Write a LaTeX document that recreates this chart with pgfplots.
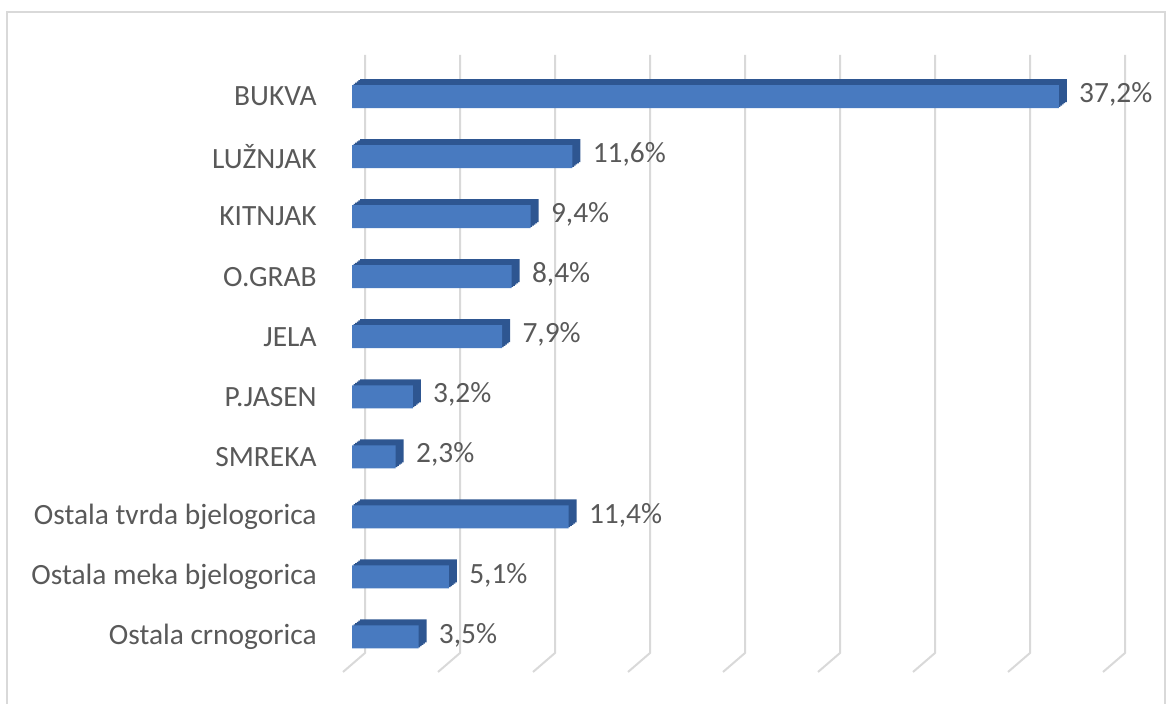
\documentclass[border=0pt]{standalone}
\usepackage{fontspec}
\setmainfont{Carlito}
\usepackage{pgfplots}
\usepackage{pgfplotstable}
\pgfplotsset{compat=1.18}

\definecolor{barfront}{RGB}{72,122,192}
\definecolor{barside}{RGB}{46,86,145}
\definecolor{gridc}{RGB}{217,217,217}
\definecolor{txt}{RGB}{89,89,89}

\pgfplotstableread{
val pos
3.5  0
5.1  1
11.4 2
2.3  3
3.2  4
7.9  5
8.4  6
9.4  7
11.6 8
37.2 9
}\sharetbl

\begin{document}
\begin{tikzpicture}
% page = 1166x704 px, 1 px = 0.5pt
\path[use as bounding box] (0,0) rectangle (583pt,352pt);
\draw[gridc, line width=0.75pt] (3.5pt,-5pt) rectangle (582.5pt,346pt);

\begin{axis}[
    at={(176pt,18.5pt)}, anchor=south west,
    scale only axis,
    width=380pt, height=300.25pt,
    xmin=0, xmax=40,
    ymin=-0.5, ymax=9.5,
    hide x axis,
    axis y line*=left,
    y axis line style={draw=none},
    major tick length=0pt,
    ytick={0,...,9},
    yticklabels={Ostala crnogorica, Ostala meka bjelogorica, Ostala tvrda bjelogorica,
                 SMREKA, P.JASEN, JELA, O.GRAB, KITNJAK, LUŽNJAK, BUKVA},
    yticklabel style={font=\fontsize{14.7}{17}\selectfont, text=txt, inner sep=0pt, xshift=-17.5pt},
    xbar, bar width=11.5pt,
    clip=false,
  ]
  % back wall grid and floor stubs
  \pgfplotsinvokeforeach{0,5,10,15,20,25,30,35,40}{
    \draw[gridc, line width=1pt]
      ([xshift=6.5pt, yshift=5.75pt]axis cs:#1,9.5)
      -- ([xshift=6.5pt, yshift=7pt]axis cs:#1,-0.5)
      -- ++(-11pt,-9.5pt);
  }
  % depth of the bars: stacked shifted copies give the top and side faces
  \pgfplotsinvokeforeach{4,3.2,2.4,1.6,0.8}{
    \addplot[fill=barside, draw=none, bar shift=0pt, xshift=#1pt, yshift=0.75*#1pt]
      table[x=val, y=pos] {\sharetbl};
  }
  % front faces
  \addplot[fill=barfront, draw=none, bar shift=0pt,
      nodes near coords={\pgfmathprintnumber[use comma,fixed,fixed zerofill,precision=1,assume math mode=true]{\pgfplotspointmeta}\%},
      every node near coord/.append style={font=\fontsize{14.7}{17}\selectfont, text=txt,
        anchor=west, inner sep=0pt, xshift=10pt, yshift=1pt},
    ]
    table[x=val, y=pos] {\sharetbl};
\end{axis}
\end{tikzpicture}
\end{document}
